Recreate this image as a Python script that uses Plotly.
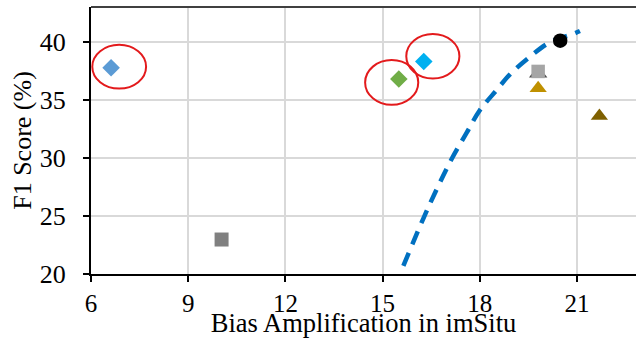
import plotly.graph_objects as go

# Individual methods: (bias amplification, F1 score)
methods = ["A", "B", "C", "D", "E", "F", "G", "H", "I"]
bias_amp = [6.62, 10.03, 15.5, 16.27, 20.48, 19.8, 19.8, 19.8, 21.69]
f1_score = [37.77, 22.97, 36.8, 38.3, 40.1, 37.28, 37.45, 36.0, 33.6]
symbols = ["diamond", "square", "diamond", "diamond", "circle",
           "triangle-up", "square", "triangle-up", "triangle-up"]
colors = ["#5B9BD5", "#808080", "#70AD47", "#00B0F0", "#000000",
          "#4D4D4D", "#A5A5A5", "#BF9000", "#7F6000"]
sizes = [13.5, 14, 13.5, 13.5, 14.5, 16, 13.5, 15, 15]

# Trade-off frontier (dashed)
curve_x = [15.64, 16.26, 16.72, 17.13, 17.6, 18.0, 18.52, 18.93,
           19.53, 20.14, 20.9, 21.09]
curve_y = [20.7, 24.8, 27.6, 29.9, 32.2, 34.1, 35.85, 37.2,
           38.68, 39.92, 40.7, 40.93]

# Highlighted methods: index, centre offset (dx, dy), half-width, half-height
highlights = [(0, 0.25, 0.09, 0.83, 1.89),
              (2, -0.22, -0.30, 0.82, 1.93),
              (3, 0.28, 0.46, 0.82, 1.92)]

x_ticks = [6, 9, 12, 15, 18, 21]
y_ticks = [20, 25, 30, 35, 40]

FONT = "Liberation Serif, Times New Roman, serif"

fig = go.Figure()

fig.add_trace(go.Scatter(
    x=curve_x, y=curve_y, mode="lines", line_shape="spline",
    line=dict(color="#0070C0", width=4.5, dash="14px,9px"),
    hoverinfo="skip", showlegend=False,
))

for i in range(len(methods)):
    fig.add_trace(go.Scatter(
        x=[bias_amp[i]], y=[f1_score[i]], mode="markers", name=methods[i],
        marker=dict(symbol=symbols[i], color=colors[i], size=sizes[i],
                    line=dict(width=0)),
        showlegend=False,
    ))

for idx, dx, dy, hw, hh in highlights:
    cx, cy = bias_amp[idx] + dx, f1_score[idx] + dy
    fig.add_shape(type="circle", xref="x", yref="y",
                  x0=cx - hw, x1=cx + hw, y0=cy - hh, y1=cy + hh,
                  line=dict(color="#E31A1C", width=2), layer="above")

# top frame line
fig.add_shape(type="line", xref="paper", yref="paper", x0=0, x1=1, y0=1, y1=1,
              line=dict(color="#404040", width=2))

fig.update_layout(
    width=636, height=338,
    margin=dict(l=91, r=0, t=7, b=61),
    plot_bgcolor="white", paper_bgcolor="white",
    font=dict(family=FONT, size=26, color="black"),
    xaxis=dict(
        range=[6, 22.82], tickmode="array", tickvals=x_ticks,
        ticktext=[str(t) for t in x_ticks],
        showgrid=True, gridcolor="#D9D9D9", gridwidth=1.5, zeroline=False,
        showline=True, linecolor="black", linewidth=2,
        ticks="outside", ticklen=6, tickwidth=1.5, tickcolor="black",
        tickfont=dict(size=25), ticklabelstandoff=0,
        title=dict(text="Bias Amplification in imSitu", font=dict(size=26.5),
                   standoff=2),
    ),
    yaxis=dict(
        range=[20, 43], tickmode="array", tickvals=y_ticks,
        ticktext=[str(t) for t in y_ticks],
        showgrid=True, gridcolor="#D9D9D9", gridwidth=1.5, zeroline=False,
        showline=True, linecolor="black", linewidth=2,
        ticks="outside", ticklen=6, tickwidth=1.5, tickcolor="black",
        tickfont=dict(size=26), ticklabelstandoff=12,
        title=dict(text="F1 Score (%)", font=dict(size=26), standoff=1),
    ),
)

fig.write_html("out.html")
